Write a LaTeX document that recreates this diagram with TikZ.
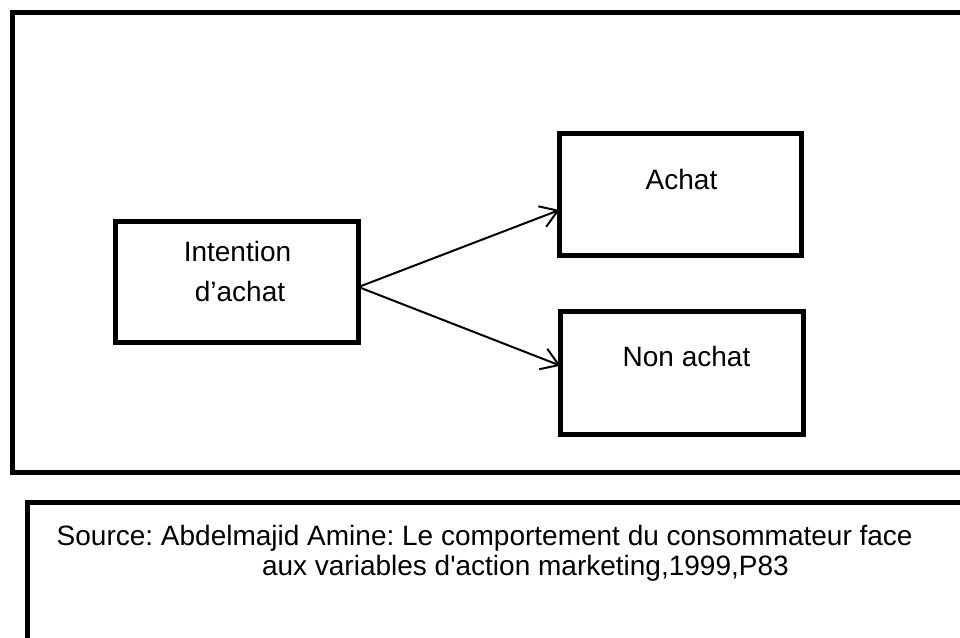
\documentclass[tikz,border=0pt]{standalone}
\usepackage{fontspec}
\setmainfont{Liberation Sans}
\usetikzlibrary{arrows.meta}
\frenchspacing
\begin{document}
\begin{tikzpicture}[x=0.75pt,y=-0.75pt,
  boxframe/.style={draw=black,line width=3.75pt,fill=none,inner sep=0pt,outer sep=0pt},
  lbl/.style={inner sep=0pt,outer sep=0pt,font=\fontsize{21}{25}\selectfont},
  conn/.style={draw=black,line width=1.5pt,-{Straight Barb[length=12.5pt,width=16.5pt,line width=1.5pt]}}]
\useasboundingbox (0,0) rectangle (960,637);
\clip (0,0) rectangle (960,637);
% outer frame and source frame (cut off by the page)
\draw[line width=3.75pt] (12.5,12.5) rectangle (990,472.5);
\draw[line width=3.75pt] (27.5,502.5) rectangle (1000,700);
% boxes
\node[boxframe,minimum width=182.25pt,minimum height=91.1pt] (int) at (237,282.25) {};
\node[boxframe,minimum width=181.5pt,minimum height=91.5pt] (ach) at (680.5,194.5) {};
\node[boxframe,minimum width=181.9pt,minimum height=91.9pt] (non) at (681.75,372.75) {};
% labels
\node[lbl,anchor=base] (intA) at (237.5,261.7) {Intention};
\node[lbl,anchor=base] (intB) at (240,301.7) {d’achat};
\node[lbl,anchor=base] (achL) at (681.5,189) {Achat};
\node[lbl,anchor=base west] (nonL) at (622.7,366.7) {Non achat};
\node[lbl,anchor=base west] (src1) at (56.7,545) {Source: Abdelmajid Amine: Le comportement du consommateur face};
\node[lbl,anchor=base west] (src2) at (262,575.7) {aux variables d\textquotesingle action marketing,1999,P83};
% connectors
\coordinate (s) at ([yshift=-3.56pt]int.east);
\draw[conn] (s) -- ([yshift=-11.6pt]ach.west);
\draw[conn] (s) -- ([yshift=5.3pt]non.west);
\end{tikzpicture}
\end{document}
